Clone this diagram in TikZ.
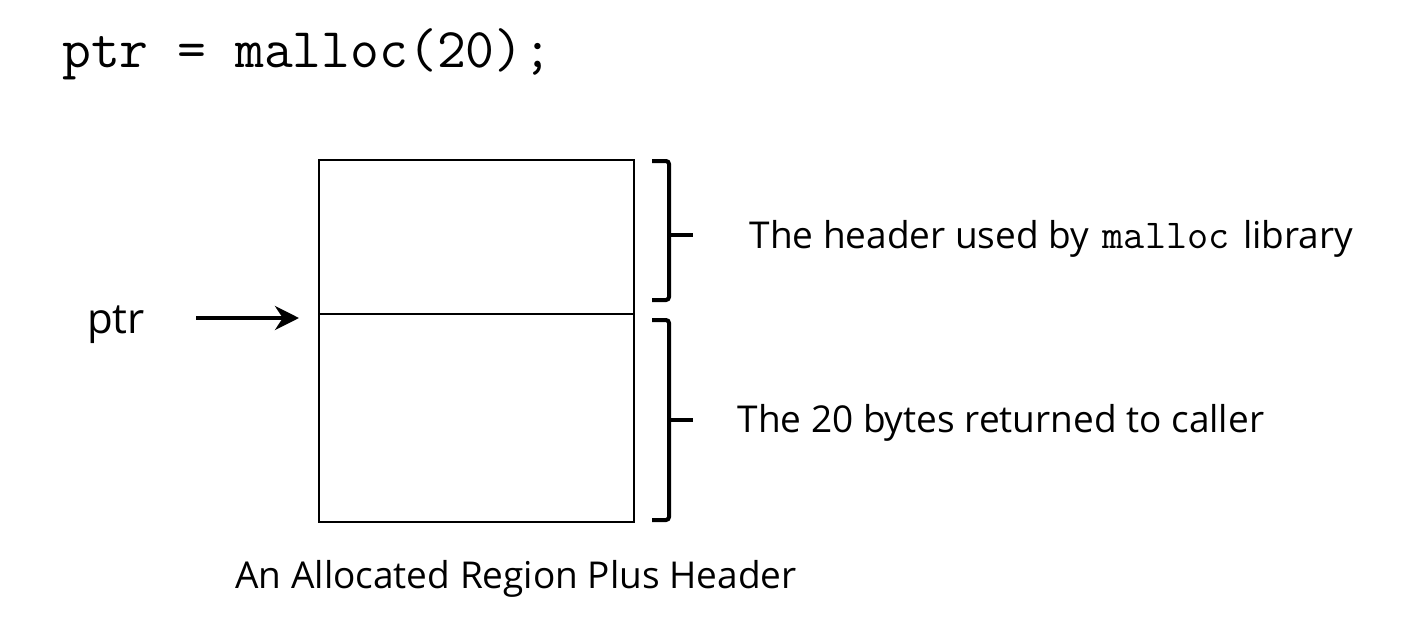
\documentclass[tikz,border=0pt]{standalone}
\usepackage{fontspec}
\setmainfont{Open Sans}
\usetikzlibrary{arrows.meta}

\tikzset{
  lbl/.style={font=\fontsize{37}{44}\selectfont},
  brace/.style={line width=4pt, rounded corners=3pt},
}

\begin{document}
\begin{tikzpicture}[x=1pt,y=-1pt]
  \useasboundingbox (0,0) rectangle (1422,640);
  \node (code) [anchor=west, inner sep=0] at (62,54) {\fontsize{56}{56}\selectfont\ttfamily ptr = malloc(20);};
  % the allocated region
  \draw [line width=2pt] (319,160) rectangle (634,522);
  \draw [line width=2pt] (319,314) -- (634,314);
  % pointer
  \node (ptr) [lbl, font=\fontsize{42}{48}\selectfont] at (116,325) {ptr};
  \coordinate (ptrtail) at (196,318);
  \coordinate (ptrhead) at (299,318);
  \draw [line width=4.5pt, -{Stealth[length=24pt,width=24pt]}] (ptrtail) -- (ptrhead);
  % braces
  \draw [brace] (652,161) -- (669,161) -- (669,300) -- (652,300);
  \draw [brace] (669,235) -- (693,235);
  \draw [brace] (652,320) -- (669,320) -- (669,520) -- (652,520);
  \draw [brace] (669,420) -- (693,420);
  \node (hdr) [lbl, anchor=west] at (746,239) {The header used by\hspace{4pt} {\fontsize{41}{41}\selectfont\ttfamily malloc}\hspace{4pt} library};
  \node (bytes) [lbl, anchor=west] at (734,423) {The 20 bytes returned to caller};
  \node (cap) [lbl, anchor=west] at (232,579) {An Allocated Region Plus Header};
\end{tikzpicture}
\end{document}
